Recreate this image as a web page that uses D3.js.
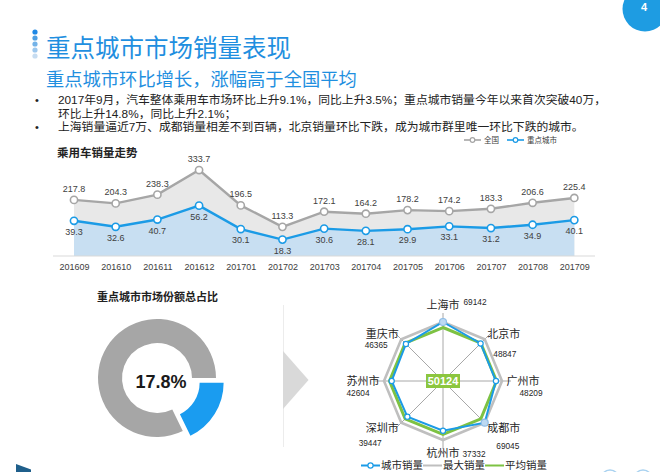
<!DOCTYPE html>
<html><head><meta charset="utf-8">
<script src="https://cdn.jsdelivr.net/npm/d3@7/dist/d3.min.js"></script>
<style>body{margin:0;background:#fff}svg{display:block}</style>
</head><body><svg id="c" width="660" height="472"></svg>
<script>
// ---------- data ----------
const months = ["201609","201610","201611","201612","201701","201702","201703","201704","201705","201706","201707","201708","201709"];
const nationalSales = [217.8,204.3,238.3,333.7,196.5,113.3,172.1,164.2,178.2,174.2,183.3,206.6,225.4];
const keyCitySales = [39.3,32.6,40.7,56.2,30.1,18.3,30.6,28.1,29.9,33.1,31.2,34.9,40.1];
const lineSeriesNames = ["全国","重点城市"];

const shareNames = ["重点城市","其他"];
const shareValues = [17.8, 82.2];

const cities = ["上海市","北京市","广州市","成都市","杭州市","深圳市","苏州市","重庆市"];
const citySales = [69142,48847,48209,69045,37332,39447,42604,46365];
const maxSales = [69142,69142,69142,69142,69142,69142,69142,69142];
const avgSales = [50124,50124,50124,50124,50124,50124,50124,50124];
const radarSeriesNames = ["城市销量","最大销量","平均销量"];

const titleText = "重点城市市场销量表现";
const subtitleText = "重点城市环比增长，涨幅高于全国平均";
const bulletLines = [
  {bullet:true,  text:"2017年9月，汽车整体乘用车市场环比上升9.1%，同比上升3.5%；重点城市销量今年以来首次突破40万，"},
  {bullet:false, text:"环比上升14.8%，同比上升2.1%；"},
  {bullet:true,  text:"上海销量逼近7万、成都销量相差不到百辆，北京销量环比下跌，成为城市群里唯一环比下跌的城市。"}
];

// ---------- style ----------
const CJK = '"Noto Sans CJK SC","Noto Sans",sans-serif';
const LAT = '"Liberation Sans",Arial,sans-serif';
const MIX = '"Liberation Sans","Noto Sans CJK SC",sans-serif';
const BLUE = "#1b9be6", GRAY = "#a6a6a6", GREEN = "#7dc243";
const svg = d3.select("#c");

// ---------- header ----------
svg.append("circle").attr("cx",645).attr("cy",9).attr("r",22.5).attr("fill","#1e9ce2");
svg.append("text").attr("x",644).attr("y",11).attr("text-anchor","middle")
  .attr("font-family",LAT).attr("font-weight","bold").attr("font-size",11).attr("fill","#fff").text("4");
const dotColors = ["#1e88e5","#4d9fe3","#74b3e8","#9dc8ee","#c6dcf1"];
svg.selectAll(".hdot").data(dotColors).join("circle")
  .attr("cx",35).attr("cy",(d,i)=>32+i*6).attr("r",2.6).attr("fill",d=>d);
svg.append("text").attr("x",46).attr("y",57).attr("font-family",CJK).attr("font-size",24.5)
  .attr("fill","#1f8fe0").text(titleText);
svg.append("text").attr("x",46).attr("y",86).attr("font-family",CJK).attr("font-size",18.3)
  .attr("fill","#1f8fe0").text(subtitleText);
const para = svg.append("text").attr("font-family",MIX).attr("font-size",11.8).attr("fill","#222");
bulletLines.forEach((l,i)=>{
  const y = 104 + i*13.5;
  if(l.bullet) svg.append("text").attr("x",35).attr("y",y).attr("font-family",LAT).attr("font-size",11).attr("fill","#222").text("•");
  para.append("tspan").attr("x",58).attr("y",y).text(l.text);
});

// ---------- line chart ----------
const x = d3.scalePoint().domain(months).range([74,574.3]);
const yN = d3.scaleLinear().domain([0,400]).range([256,153]);
const yK = d3.scaleLinear().domain([0,115]).range([256,153]);
const lc = svg.append("g");
lc.append("text").attr("x",57).attr("y",157).attr("font-family",CJK).attr("font-weight","bold")
  .attr("font-size",11.5).attr("fill","#222").text("乘用车销量走势");
const areaN = d3.area().x((d,i)=>x(months[i])).y0(yN(0)).y1(d=>yN(d));
const areaK = d3.area().x((d,i)=>x(months[i])).y0(yK(0)).y1(d=>yK(d));
lc.append("path").datum(nationalSales).attr("d",areaN).attr("fill","#e8e8e8");
lc.append("path").datum(keyCitySales).attr("d",areaK).attr("fill","#c8dff2");
lc.append("line").attr("x1",53).attr("x2",595).attr("y1",256).attr("y2",256).attr("stroke","#d9d9d9");
const axis = lc.append("g").attr("transform","translate(0,256)")
  .call(d3.axisBottom(x).tickSize(0).tickPadding(8));
axis.select(".domain").remove();
axis.selectAll("text").attr("font-family",LAT).attr("font-size",9).attr("fill","#404040");
const lineN = d3.line().x((d,i)=>x(months[i])).y(d=>yN(d));
const lineK = d3.line().x((d,i)=>x(months[i])).y(d=>yK(d));
lc.append("path").datum(nationalSales).attr("d",lineN).attr("fill","none").attr("stroke",GRAY).attr("stroke-width",2.4);
lc.append("path").datum(keyCitySales).attr("d",lineK).attr("fill","none").attr("stroke",BLUE).attr("stroke-width",2.4);
lc.selectAll(".pn").data(nationalSales).join("circle").attr("cx",(d,i)=>x(months[i])).attr("cy",d=>yN(d))
  .attr("r",3.6).attr("fill","#fff").attr("stroke",GRAY).attr("stroke-width",1.6);
lc.selectAll(".pk").data(keyCitySales).join("circle").attr("cx",(d,i)=>x(months[i])).attr("cy",d=>yK(d))
  .attr("r",3.6).attr("fill","#fff").attr("stroke",BLUE).attr("stroke-width",1.6);
lc.selectAll(".ln").data(nationalSales).join("text").attr("x",(d,i)=>x(months[i])).attr("y",d=>yN(d)-8)
  .attr("text-anchor","middle").attr("font-family",LAT).attr("font-size",9).attr("fill","#404040").text(d=>d.toFixed(1));
lc.selectAll(".lk").data(keyCitySales).join("text").attr("x",(d,i)=>x(months[i])).attr("y",d=>yK(d)+14)
  .attr("text-anchor","middle").attr("font-family",LAT).attr("font-size",9).attr("fill","#404040").text(d=>d.toFixed(1));
// legend
[[464,GRAY],[507,BLUE]].forEach(([lx,col],i)=>{
  lc.append("line").attr("x1",lx).attr("x2",lx+17).attr("y1",140).attr("y2",140).attr("stroke",col).attr("stroke-width",1.6);
  lc.append("circle").attr("cx",lx+8.5).attr("cy",140).attr("r",2.3).attr("fill","#fff").attr("stroke",col).attr("stroke-width",1.2);
  lc.append("text").attr("x",lx+20).attr("y",142.7).attr("font-family",CJK).attr("font-size",7.5).attr("fill","#404040").text(lineSeriesNames[i]);
});

// ---------- donut ----------
const dc = svg.append("g").attr("transform","translate(157,378)");
svg.append("text").attr("x",157.5).attr("y",301).attr("text-anchor","middle").attr("font-family",CJK)
  .attr("font-weight","bold").attr("font-size",11).attr("fill","#222").text("重点城市市场份额总占比");
const pie = d3.pie().sort(null).startAngle(Math.PI/2).endAngle(Math.PI/2+2*Math.PI);
const arc = d3.arc().innerRadius(35).outerRadius(59);
const arcs = pie(shareValues);
dc.selectAll("path").data(arcs).join("path").attr("d",arc)
  .attr("fill",(d,i)=>i===0?"#1a9cf0":"#a6a6a6")
  .attr("transform",(d,i)=>{
    if(i!==0) return null;
    const a=(d.startAngle+d.endAngle)/2, off=9;
    return `translate(${off*Math.sin(a)},${-off*Math.cos(a)})`;
  });
svg.append("text").attr("x",161).attr("y",388).attr("text-anchor","middle").attr("font-family",LAT)
  .attr("font-weight","bold").attr("font-size",18).attr("fill","#1a1a1a").text(shareValues[0].toFixed(1)+"%");

// separator
svg.append("line").attr("x1",283.5).attr("x2",283.5).attr("y1",305).attr("y2",447).attr("stroke","#ececec");
svg.append("path").attr("d","M283,351L308.5,380L283,409Z").attr("fill","#d9d9d9");

// ---------- radar ----------
const cx=443, cy=381;
const rS = d3.scaleLinear().domain([0,69142]).range([39,59]);
const ang = d3.scalePoint().domain(cities).range([0,2*Math.PI*7/8]);
const pt = (c,r)=>[cx+r*Math.sin(ang(c)), cy-r*Math.cos(ang(c))];
const rc = svg.append("g");
cities.forEach(c=>{
  const [ex,ey]=pt(c,68);
  rc.append("line").attr("x1",cx).attr("y1",cy).attr("x2",ex).attr("y2",ey).attr("stroke","#a8a8a8").attr("stroke-width",1);
});
const poly = vals => d3.line().curve(d3.curveLinearClosed)(vals.map((v,i)=>pt(cities[i],rS(v))));
rc.append("path").attr("d",poly(maxSales)).attr("fill","none").attr("stroke","#bfbfbf").attr("stroke-width",2.6);
rc.append("path").attr("d",poly(avgSales)).attr("fill","none").attr("stroke",GREEN).attr("stroke-width",3);
rc.append("path").attr("d",poly(citySales)).attr("fill","none").attr("stroke",BLUE).attr("stroke-width",2);
rc.selectAll(".rp").data(citySales).join("circle")
  .attr("cx",(d,i)=>pt(cities[i],rS(d))[0]).attr("cy",(d,i)=>pt(cities[i],rS(d))[1])
  .attr("r",d=>d>69000?3.5:2.6).attr("fill",d=>d>69000?"#bcd9f3":"#fff")
  .attr("stroke",d=>d>69000?"#8fbde6":BLUE).attr("stroke-width",1.2);
// label anchor positions (layout only)
const labelPos = c=>{
  const a=ang(c), s=Math.sin(a), co=Math.cos(a);
  const diag = Math.abs(s)>0.2 && Math.abs(s)<0.9;
  const ry = co>0.9 ? 76 : (co<-0.9 ? 72 : 67);
  return [cx + s*(diag?86:80), cy - co*(diag?67:ry)];
};
cities.forEach((c,i)=>{
  const [lx,ly]=labelPos(c);
  rc.append("text").attr("x",lx).attr("y",ly+4).attr("text-anchor","middle").attr("font-family",CJK)
    .attr("font-size",11).attr("fill","#262626").text(c);
});
const valueOffsets = [[32,-3],[1,20],[8,12],[4,18],[31,0.5],[-12,15],[-5,12],[-6,11]];
cities.forEach((c,i)=>{
  const [lx,ly]=labelPos(c);
  rc.append("text").attr("x",lx+valueOffsets[i][0]).attr("y",ly+valueOffsets[i][1]+3)
    .attr("text-anchor","middle").attr("font-family",LAT).attr("font-size",8.3).attr("fill","#262626").text(citySales[i]);
});
rc.append("rect").attr("x",cx-17).attr("y",cy-7).attr("width",34).attr("height",14).attr("fill","#8cc63f");
rc.append("text").attr("x",cx).attr("y",cy+4).attr("text-anchor","middle").attr("font-family",LAT)
  .attr("font-weight","bold").attr("font-size",11).attr("fill","#fff").text(avgSales[0]);
// radar legend
[[361,BLUE,true],[423,"#bfbfbf",false],[485,GREEN,false]].forEach(([lx,col,mk],i)=>{
  rc.append("line").attr("x1",lx).attr("x2",lx+19).attr("y1",465.5).attr("y2",465.5).attr("stroke",col).attr("stroke-width",2);
  if(mk) rc.append("circle").attr("cx",lx+9.5).attr("cy",465.5).attr("r",2.6).attr("fill","#fff").attr("stroke",col).attr("stroke-width",1.2);
  rc.append("text").attr("x",lx+20).attr("y",468.8).attr("font-family",MIX).attr("font-size",10.5).attr("fill","#262626").text(radarSeriesNames[i]);
});

// ---------- decorations ----------
svg.append("path").attr("d","M16,464L31,469.5L31,472L16,472Z").attr("fill","#1f5f8b");
svg.append("circle").attr("cx",610).attr("cy",479).attr("r",9).attr("fill","none").attr("stroke","#a9d2f0").attr("stroke-width",1.5);
svg.append("circle").attr("cx",643).attr("cy",479).attr("r",9).attr("fill","none").attr("stroke","#a9d2f0").attr("stroke-width",1.5);
</script></body></html>
